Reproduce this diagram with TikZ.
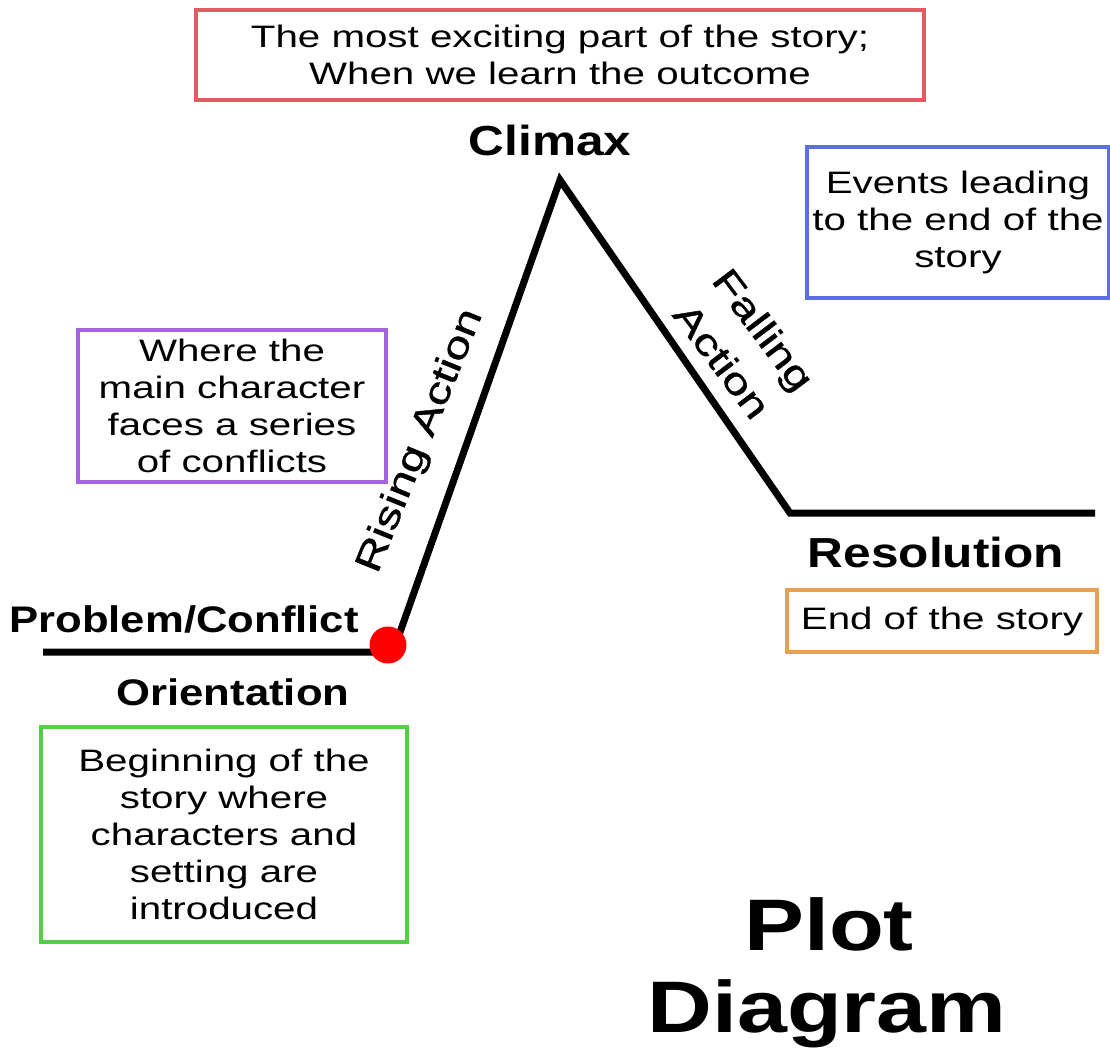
\documentclass[tikz,border=0pt]{standalone}
\usepackage{fontspec}
\usepackage{xcolor}
\usepackage{tikz}
\usetikzlibrary{positioning}

\setmainfont{Liberation Sans}[FakeStretch=1.3]
\newfontfamily\headfont{Liberation Sans}[FakeStretch=1.18]
\newfontfamily\slopefont{Liberation Sans}[FakeStretch=1.3, FakeBold=1]
\newfontfamily\titlefont{Liberation Sans}[FakeStretch=1.23]

\definecolor{boxred}{RGB}{226,92,98}
\definecolor{boxblue}{RGB}{92,112,222}
\definecolor{boxpurple}{RGB}{166,98,226}
\definecolor{boxgreen}{RGB}{84,206,72}
\definecolor{boxorange}{RGB}{234,160,82}

\tikzset{
  infobox/.style={draw=#1, line width=4pt, align=center, inner sep=0pt,
    font=\fontsize{31}{37}\selectfont},
  stage/.style={anchor=base, inner sep=0pt, font=\headfont\bfseries\fontsize{42}{48}\selectfont},
  smallstage/.style={anchor=base, inner sep=0pt, font=\headfont\bfseries\fontsize{37}{42}\selectfont},
  slope/.style={inner sep=0pt, align=center, font=\slopefont\fontsize{37}{52}\selectfont},
  plotline/.style={line width=7pt, line join=miter},
}

\begin{document}
\begin{tikzpicture}[x=1pt,y=-1pt]
    \useasboundingbox (0,0) rectangle (1110,1050);

    % Plot line
    \coordinate (start) at (43,652);
    \coordinate (conflict) at (393,652);
    \coordinate (peak) at (560,180);
    \coordinate (fall) at (790,513);
    \coordinate (finish) at (1095,513);
    \draw[plotline] (start) -- (conflict) -- (peak) -- (fall) -- (finish);
    \node[circle, fill=red, inner sep=0pt, minimum size=37pt] (conflictdot) at (388,645) {};

    % Stage labels
    \node[stage] (climax) at (550,155) {Climax};
    \node[stage] (resolution) at (936,567) {Resolution};
    \node[smallstage] (problem) at (184,632) {Problem/Conflict};
    \node[smallstage] (orientation) at (233,705) {Orientation};

    % Labels along the slopes
    \node[slope, rotate=68] (rising) at (421,441) {Rising Action};
    \node[slope, rotate=-53] (falling) at (743,345) {Falling\\Action};

    % Boxes
    \node[infobox=boxred, minimum width=728pt, minimum height=90pt] (climaxbox) at (560,55)
        {The most exciting part of the story;\\When we learn the outcome};
    \node[infobox=boxblue, minimum width=302pt, minimum height=151pt] (fallingbox) at (958,222)
        {Events leading\\to the end of the\\story};
    \node[infobox=boxpurple, minimum width=308pt, minimum height=152pt] (risingbox) at (232,406)
        {Where the\\main character\\faces a series\\of conflicts};
    \node[infobox=boxorange, minimum width=310pt, minimum height=62pt] (resolutionbox) at (942,621)
        {End of the story};
    \node[infobox=boxgreen, minimum width=366pt, minimum height=215pt] (orientationbox) at (224,834)
        {Beginning of the\\story where\\characters and\\setting are\\introduced};

    % Title
    \node[anchor=base, inner sep=0pt, font=\titlefont\bfseries\fontsize{73}{85}\selectfont] (plottitle) at (829,950) {Plot};
    \node[anchor=base, inner sep=0pt, font=\titlefont\bfseries\fontsize{73}{85}\selectfont] (diagramtitle) at (827,1032) {Diagram};
\end{tikzpicture}
\end{document}
